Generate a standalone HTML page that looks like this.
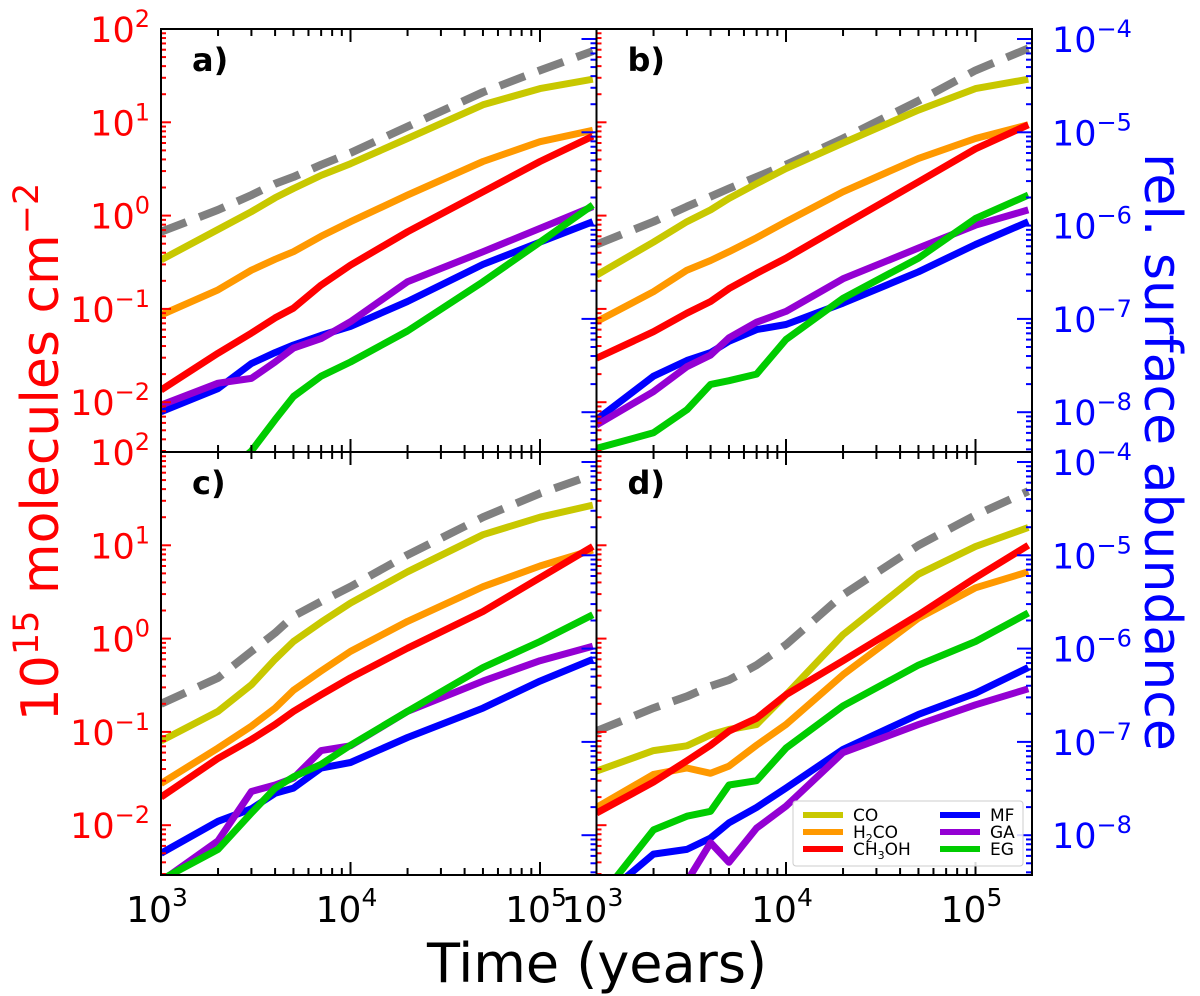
<!DOCTYPE html>
<html><head><meta charset="utf-8"><style>
body{margin:0;background:#fff;}
svg{display:block;font-family:"DejaVu Sans","Liberation Sans",sans-serif;}
</style></head><body>
<svg id="chart" width="1200" height="996" viewBox="0 0 1200 996" xmlns="http://www.w3.org/2000/svg"></svg>
<script>
const times = [1e3,2e3,3e3,4e3,5e3,7e3,1e4,2e4,5e4,1e5,1.9e5];
const speciesNames = ["total","CO","H2CO","CH3OH","MF","GA","EG"];
const panelA_total = [0.67,1.15,1.66,2.2,2.6,3.5,4.7,9,21,36,58];
const panelA_CO = [0.335,0.71,1.1,1.55,1.95,2.7,3.6,6.7,15.4,23,29];
const panelA_H2CO = [0.086,0.16,0.26,0.34,0.41,0.6,0.86,1.66,3.8,6.2,8.2];
const panelA_CH3OH = [0.0135,0.0335,0.055,0.08,0.102,0.18,0.295,0.67,1.8,3.8,7.1];
const panelA_MF = [0.0079,0.014,0.026,0.034,0.041,0.052,0.065,0.12,0.3,0.52,0.86];
const panelA_GA = [0.0093,0.016,0.018,0.027,0.038,0.048,0.073,0.195,0.41,0.73,1.25];
const panelA_EG = [0.0005,0.0015,0.003,0.0065,0.0115,0.019,0.027,0.058,0.195,0.52,1.3];
const panelB_total = [0.49,0.86,1.25,1.6,1.95,2.6,3.5,6.7,17,36,62];
const panelB_CO = [0.23,0.52,0.86,1.15,1.53,2.2,3.2,6,13.5,23,29];
const panelB_H2CO = [0.073,0.153,0.26,0.33,0.41,0.58,0.86,1.8,4.1,6.7,9.4];
const panelB_CH3OH = [0.0296,0.057,0.09,0.12,0.165,0.24,0.35,0.79,2.3,5.2,9.4];
const panelB_MF = [0.0065,0.019,0.028,0.034,0.045,0.06,0.068,0.115,0.25,0.49,0.86];
const panelB_GA = [0.0057,0.013,0.024,0.032,0.049,0.072,0.094,0.21,0.45,0.79,1.15];
const panelB_EG = [0.0032,0.0047,0.0083,0.0155,0.017,0.02,0.047,0.13,0.35,0.93,1.66];
const panelC_total = [0.2,0.38,0.73,1.15,1.74,2.5,3.6,7.9,20,36,57];
const panelC_CO = [0.08,0.166,0.32,0.6,0.93,1.5,2.4,5.2,13,20,27];
const panelC_H2CO = [0.028,0.067,0.115,0.18,0.28,0.45,0.73,1.53,3.6,6,8.9];
const panelC_CH3OH = [0.02,0.052,0.083,0.12,0.166,0.25,0.38,0.79,1.95,4.5,9.7];
const panelC_MF = [0.005,0.011,0.015,0.022,0.025,0.041,0.047,0.087,0.18,0.35,0.6];
const panelC_GA = [0.0025,0.0068,0.023,0.027,0.032,0.063,0.071,0.166,0.35,0.58,0.83];
const panelC_EG = [0.0026,0.0055,0.0135,0.025,0.033,0.045,0.072,0.166,0.49,0.93,1.8];
const panelD_total = [0.102,0.18,0.24,0.31,0.36,0.52,0.86,2.95,10,21,38];
const panelD_CO = [0.038,0.063,0.071,0.093,0.106,0.12,0.25,1.1,4.9,9.7,15.5];
const panelD_H2CO = [0.0155,0.035,0.041,0.036,0.043,0.072,0.12,0.41,1.66,3.5,5.2];
const panelD_CH3OH = [0.0135,0.029,0.049,0.072,0.102,0.14,0.25,0.58,1.8,4.5,10];
const panelD_MF = [0.0015,0.0049,0.0055,0.0073,0.0106,0.0155,0.025,0.065,0.154,0.26,0.49];
const panelD_GA = [0.0008,0.0015,0.0025,0.0065,0.004,0.0093,0.016,0.06,0.12,0.195,0.29];
const panelD_EG = [0.0015,0.0089,0.0125,0.0141,0.027,0.03,0.067,0.19,0.52,0.93,1.88];
const panelLabels = ["a)","b)","c)","d)"];
const leftTickExps = [2,1,0,-1,-2];
const rightTickExps = [-4,-5,-6,-7,-8];
const xTickExps = [3,4,5];

const NS="http://www.w3.org/2000/svg";
const svg=document.getElementById('chart');
function mk(tag,attrs,parent){const e=document.createElementNS(NS,tag);for(const k in attrs)e.setAttribute(k,attrs[k]);(parent||svg).appendChild(e);return e;}

const colors={total:"#808080",CO:"#c8c800",H2CO:"#ff9900",CH3OH:"#ff0000",MF:"#0000ff",GA:"#9400d3",EG:"#00cc00"};
const panels=[
 {id:"a",x0:161,y0:29,data:[panelA_total,panelA_CO,panelA_H2CO,panelA_CH3OH,panelA_MF,panelA_GA,panelA_EG],rOff:39},
 {id:"b",x0:596.5,y0:29,data:[panelB_total,panelB_CO,panelB_H2CO,panelB_CH3OH,panelB_MF,panelB_GA,panelB_EG],rOff:39},
 {id:"c",x0:161,y0:452,data:[panelC_total,panelC_CO,panelC_H2CO,panelC_CH3OH,panelC_MF,panelC_GA,panelC_EG],rOff:462},
 {id:"d",x0:596.5,y0:452,data:[panelD_total,panelD_CO,panelD_H2CO,panelD_CH3OH,panelD_MF,panelD_GA,panelD_EG],rOff:462}
];
const PW=435.5, PH=423, XDEC=189.5, YDEC=93.3;
function xs(p,t){return p.x0+(Math.log10(t)-3)*XDEC;}
function ys(p,v){return p.y0+(2-Math.log10(v))*YDEC;}
function yr(p,v){return p.rOff+(-4-Math.log10(v))*YDEC;}

const defs=mk('defs',{});
panels.forEach((p,pi)=>{
  const cp=mk('clipPath',{id:'clip'+p.id},defs);
  mk('rect',{x:p.x0,y:p.y0,width:PW,height:PH},cp);
  const g=mk('g',{'clip-path':'url(#clip'+p.id+')'});
  
  
  p.data.forEach((arr,si)=>{
    const name=speciesNames[si];
    const d=arr.map((v,i)=>(i?'L':'M')+xs(p,times[i]).toFixed(1)+','+ys(p,v).toFixed(1)).join(' ');
    const path=mk('path',{d:d,fill:'none',stroke:colors[name],'stroke-width':si===0?8:7,'stroke-linejoin':'round','stroke-dasharray':si===0?'27,14':'none'},g);
    
    
  });
  const tg=mk('g',{});
  
  
  for(let e=-3;e<=2;e++){for(let m=1;m<10;m++){const v=m*Math.pow(10,e);const y=ys(p,v);if(y<p.y0-0.5||y>p.y0+PH+0.5)continue;
    mk('line',{x1:p.x0,x2:p.x0+(m===1?10:5),y1:y,y2:y,stroke:'#ff0000','stroke-width':2},tg);}}
  for(let e=-9;e<=-3;e++){for(let m=1;m<10;m++){const v=m*Math.pow(10,e);const y=yr(p,v);if(y<p.y0-0.5||y>p.y0+PH+0.5)continue;
    mk('line',{x1:p.x0+PW,x2:p.x0+PW-(m===1?15:6),y1:y,y2:y,stroke:'#0000ff','stroke-width':2},tg);}}
  for(let e=3;e<=5;e++){for(let m=1;m<10;m++){const t=m*Math.pow(10,e);const x=xs(p,t);if(x>p.x0+PW+0.5)continue;
    const L=m===1?13:7;
    mk('line',{x1:x,x2:x,y1:p.y0+PH,y2:p.y0+PH-L,stroke:'#000','stroke-width':2},tg);
    mk('line',{x1:x,x2:x,y1:p.y0,y2:p.y0+L,stroke:'#000','stroke-width':2},tg);}}
  const fr=mk('rect',{x:p.x0,y:p.y0,width:PW,height:PH,fill:'none',stroke:'#000','stroke-width':2});
  
  
  const lb=mk('text',{x:p.x0+31,y:p.y0+42,'font-size':32,'font-weight':'bold',fill:'#000'});
  lb.textContent=panelLabels[pi];
  
  
  if(p.id==='a'||p.id==='c'){
    leftTickExps.forEach(e=>{const y=ys(p,Math.pow(10,e));
      const t=mk('text',{x:150,y:y+13,'font-size':35,fill:'#ff0000','text-anchor':'end'});
      t.innerHTML='10<tspan dy="-15" font-size="24">'+(e<0?'\u2212'+(-e):e)+'</tspan>';
      
      });
  }
  if(p.id==='b'||p.id==='d'){
    rightTickExps.forEach(e=>{const y=yr(p,Math.pow(10,e));
      const t=mk('text',{x:1052,y:y+13,'font-size':35,fill:'#0000ff'});
      t.innerHTML='10<tspan dy="-15" font-size="24">\u2212'+(-e)+'</tspan>';
      
      });
  }
  if(p.id==='c'||p.id==='d'){
    xTickExps.forEach(e=>{const x=xs(p,Math.pow(10,e));
      const t=mk('text',{x:x-4,y:922,'font-size':36,fill:'#000','text-anchor':'middle'});
      t.innerHTML='10<tspan dy="-16" font-size="25">'+e+'</tspan>';
      
      });
  }
});
const lg=mk('g',{});


mk('rect',{x:793,y:801,width:230,height:65,rx:3,fill:'#fff','fill-opacity':0.85,stroke:'#cccccc','stroke-width':1},lg);
const legItems=[["CO","CO",803,815],["H2CO","H<tspan font-size=\"11\" dy=\"4\">2</tspan><tspan dy=\"-4\">CO</tspan>",803,832],["CH3OH","CH<tspan font-size=\"11\" dy=\"4\">3</tspan><tspan dy=\"-4\">OH</tspan>",803,849],
 ["MF","MF",940,815],["GA","GA",940,832],["EG","EG",940,849]];
legItems.forEach(it=>{
  const e=mk('g',{},lg);
  
  
  mk('line',{x1:it[2],x2:it[2]+40,y1:it[3],y2:it[3],stroke:colors[it[0]],'stroke-width':6},e);
  const t=mk('text',{x:it[2]+50,y:it[3]+6,'font-size':17,fill:'#000'},e);t.innerHTML=it[1];
});
const xt=mk('text',{x:597,y:982,'font-size':54,'text-anchor':'middle',fill:'#000'});
xt.textContent='Time (years)';


const ylt=mk('text',{x:0,y:0,'font-size':52,'text-anchor':'middle',fill:'#ff0000',transform:'translate(58,452) rotate(-90)'});
ylt.innerHTML='10<tspan dy="-20" font-size="35">15</tspan><tspan dy="20"> molecules cm</tspan><tspan dy="-20" font-size="35">\u22122</tspan>';


const yrt=mk('text',{x:0,y:0,'font-size':52,'text-anchor':'middle',fill:'#0000ff',transform:'translate(1145,452) rotate(90)'});
yrt.textContent='rel. surface abundance';


</script>
</body></html>
